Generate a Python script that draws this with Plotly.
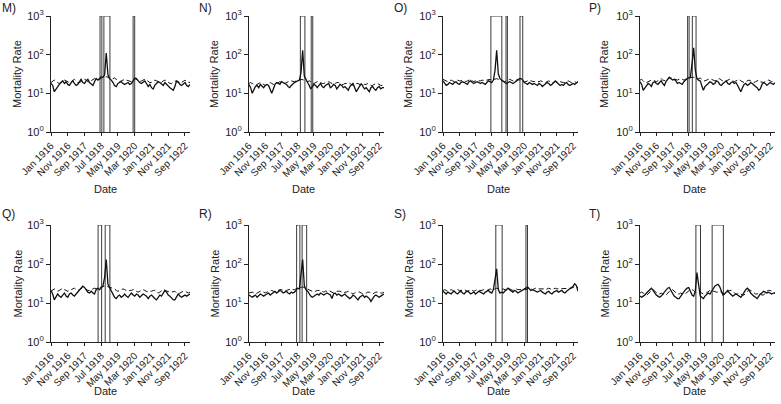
import plotly.graph_objects as go
import pandas as pd

W, H = 781, 404

months = pd.date_range("1916-01-01", "1922-12-01", freq="MS").strftime("%Y-%m-%d").tolist()

tick_dates = ["1916-01-01", "1916-11-01", "1917-09-01", "1918-07-01", "1919-05-01",
              "1920-03-01", "1921-01-01", "1921-11-01", "1922-09-01"]
tick_labels = ["Jan 1916", "Nov 1916", "Sep 1917", "Jul 1918", "May 1919",
               "Mar 1920", "Jan 1921", "Nov 1921", "Sep 1922"]
y_ticks = [1, 10, 100, 1000]
y_labels = ["10<sup>0</sup>", "10<sup>1</sup>", "10<sup>2</sup>", "10<sup>3</sup>"]

panel_labels = ["M)", "N)", "O)", "P)", "Q)", "R)", "S)", "T)"]

M_obs = [18,16,11,13,15,17,19,21,18,20,17,16,
         19,21,18,16,17,20,23,19,18,21,23,19,
         17,16,20,24,22,24,27,26,30,110,30,24,
         22,19,16,15,18,19,20,18,17,18,19,17,
         18,21,25,24,21,19,18,20,21,18,15,17,
         14,13,16,18,20,19,17,16,19,17,15,14,
         13,12,15,21,20,17,16,18,19,16,15,17]
M_exp = [19,21,22,20,19,18,19,21,22,21,20,19,
         20,22,23,21,19,19,20,22,23,22,20,20,
         21,23,24,23,22,23,25,26,26,27,26,25,
         23,24,25,23,21,20,21,22,23,22,21,20,
         20,22,24,23,21,20,21,22,23,22,20,19,
         19,21,22,21,20,19,19,21,22,21,19,18,
         18,20,21,20,19,18,19,21,22,20,19,19]
N_obs = [17,14,10,12,15,16,14,17,15,14,16,17,
         16,13,10,13,17,19,18,17,20,19,18,17,
         15,14,16,18,19,20,21,22,35,130,28,22,
         19,16,13,15,17,16,14,16,18,15,14,16,
         17,18,14,15,17,16,13,15,17,16,14,15,
         13,12,15,17,18,14,11,13,16,18,15,13,
         14,12,11,14,15,13,12,14,15,13,14,14]
N_exp = [18,19,18,17,16,17,18,19,18,17,16,17,
         18,19,18,17,17,18,19,20,19,18,18,19,
         20,21,21,20,20,21,22,22,23,23,22,21,
         20,21,20,18,18,19,20,20,19,18,18,19,
         19,20,19,18,17,18,19,19,18,17,17,18,
         18,19,18,17,16,17,18,18,17,16,16,17,
         17,18,17,16,16,17,18,18,17,16,16,17]
O_obs = [21,18,16,17,19,18,17,19,20,18,17,19,
         20,19,18,17,20,21,19,18,19,20,19,18,
         19,18,17,19,21,20,19,22,40,130,32,24,
         22,20,19,18,19,20,19,18,19,21,22,24,
         24,22,19,18,17,19,18,17,18,17,16,18,
         17,15,16,17,19,18,16,17,19,21,19,17,
         16,17,16,18,19,17,16,17,18,17,18,20]
O_exp = [23,22,21,20,21,22,21,20,21,22,21,21,
         22,21,20,21,22,23,21,20,21,22,21,21,
         22,21,21,22,23,23,22,23,24,24,23,22,
         22,21,20,21,22,23,22,21,20,22,23,22,
         22,21,20,20,21,22,21,20,20,21,20,20,
         21,20,19,19,20,21,20,19,19,20,20,19,
         20,19,19,19,20,21,20,19,19,20,19,20]
P_obs = [20,17,12,14,16,18,17,15,19,20,18,17,
         19,21,18,16,20,23,26,24,22,23,21,18,
         19,18,17,20,22,24,25,26,60,150,40,24,
         22,21,16,12,15,17,18,20,19,17,18,21,
         20,17,16,18,19,21,18,17,19,20,18,19,
         16,13,11,14,17,18,16,17,19,18,16,15,
         14,12,13,17,19,18,16,17,19,18,17,19]
P_exp = [22,23,21,19,19,20,21,22,22,21,20,21,
         23,24,22,21,21,23,25,25,24,23,22,22,
         23,24,23,22,23,24,25,26,26,26,25,24,
         24,25,23,21,21,22,23,24,23,22,21,22,
         23,24,22,21,20,21,22,23,22,21,20,21,
         22,23,21,20,19,20,21,22,21,20,19,20,
         21,22,20,19,19,20,21,22,21,20,20,21]
Q_obs = [21,17,12,14,17,15,14,16,18,15,14,17,
         18,16,15,17,19,21,23,27,25,21,19,18,
         20,18,17,22,24,22,25,27,45,130,30,25,
         21,17,14,13,15,16,14,15,17,15,14,16,
         18,16,15,17,16,14,15,17,16,15,13,15,
         16,14,13,12,14,16,15,18,21,19,16,15,
         13,12,12,15,17,15,14,15,16,15,16,17]
Q_exp = [20,22,23,21,20,21,23,24,22,21,20,21,
         22,23,24,22,21,22,24,25,24,22,21,21,
         22,23,24,23,23,24,26,27,27,27,26,25,
         24,24,23,21,20,21,22,23,22,21,20,21,
         21,22,22,20,19,20,21,22,21,20,19,20,
         20,21,21,19,18,19,20,22,21,20,19,19,
         19,20,20,18,17,18,19,20,20,19,18,19]
R_obs = [16,15,14,15,16,14,15,17,16,15,16,17,
         18,16,17,19,20,18,19,21,20,18,19,20,
         18,17,19,18,19,22,24,23,50,130,28,22,
         20,17,15,14,15,16,17,16,18,17,16,17,
         18,17,16,13,17,18,16,17,16,15,16,17,
         15,14,13,14,16,15,13,12,14,15,16,14,
         15,14,13,11,13,15,16,15,14,15,16,17]
R_exp = [18,19,19,18,17,18,19,20,20,19,18,19,
         20,21,21,20,19,20,21,22,22,21,20,21,
         22,23,23,22,22,23,24,25,25,26,25,24,
         23,22,21,20,19,20,21,21,21,20,19,20,
         20,21,20,19,18,19,20,20,20,19,18,19,
         19,20,19,18,17,18,19,19,19,18,17,18,
         18,19,19,18,17,18,19,19,19,18,18,19]
S_obs = [20,18,17,19,18,17,19,20,18,17,19,20,
         18,17,19,20,19,17,18,19,17,18,20,19,
         18,17,19,20,21,19,18,22,40,75,22,18,
         19,18,20,22,24,22,20,19,21,20,18,19,
         20,21,22,24,26,23,21,22,21,20,19,20,
         21,19,18,17,19,20,18,17,19,20,21,19,
         20,21,19,18,20,22,24,25,27,31,28,20]
S_exp = [21,22,21,20,21,22,21,20,21,22,21,21,
         21,22,21,20,21,22,21,20,21,22,21,21,
         21,22,22,21,22,23,22,22,23,24,23,22,
         22,23,22,21,22,23,22,21,22,23,22,22,
         22,23,23,22,23,24,23,22,23,24,23,23,
         23,24,23,22,23,24,23,22,23,24,23,23,
         23,24,24,23,23,24,24,24,25,26,25,25]
T_obs = [15,14,15,16,18,20,22,24,21,18,16,15,
         14,15,17,19,22,24,25,21,17,15,14,13,
         13,15,17,20,22,24,25,20,16,15,20,60,
         25,15,14,13,15,17,18,17,20,24,27,29,
         30,26,20,16,17,19,21,18,16,15,16,17,
         16,15,14,16,19,22,24,22,18,16,15,14,
         13,15,17,18,20,19,18,19,18,17,18,18]
T_exp = [18,19,18,17,16,17,19,21,22,20,18,17,
         17,18,17,16,16,18,20,22,22,20,18,17,
         17,18,17,17,17,19,21,22,22,21,19,18,
         18,19,18,17,17,18,20,21,21,20,19,19,
         19,20,19,18,17,18,20,21,21,20,18,17,
         17,18,17,16,16,18,20,21,21,20,18,17,
         17,18,17,16,16,18,20,21,21,20,19,18]

# outbreak windows (start, end) per panel
M_out = [("1918-06-10", "1918-07-13"), ("1918-08-19", "1918-12-07"), ("1920-02-01", "1920-03-01")]
N_out = [("1918-08-19", "1918-11-12"), ("1919-03-10", "1919-04-08")]
O_out = [("1918-06-15", "1919-01-06"), ("1919-03-25", "1919-04-20"), ("1919-12-12", "1920-02-01")]
P_out = [("1918-06-10", "1918-07-08"), ("1918-09-06", "1918-11-15")]
Q_out = [("1918-05-06", "1918-07-09"), ("1918-09-12", "1918-12-06")]
R_out = [("1918-06-10", "1918-08-10"), ("1918-09-21", "1918-12-15")]
S_out = [("1918-09-15", "1919-01-12"), ("1920-04-01", "1920-04-30")]
T_out = [("1918-11-12", "1919-02-06"), ("1919-09-12", "1920-04-09")]

panels = [(M_obs, M_exp, M_out), (N_obs, N_exp, N_out), (O_obs, O_exp, O_out), (P_obs, P_exp, P_out),
          (Q_obs, Q_exp, Q_out), (R_obs, R_exp, R_out), (S_obs, S_exp, S_out), (T_obs, T_exp, T_out)]

col_px = [(51, 190), (249, 384), (443, 578), (640, 775)]
row_px = [(16, 132), (225, 342)]
label_x = [0, 197, 392, 587]
label_y = [8, 214]
date_x = [105, 303, 498, 694]
date_y = [189, 391]
ytitle_x = [17, 214, 408, 604]

FONT = "Liberation Sans, Arial, sans-serif"
TXT = "#222222"

fig = go.Figure()
layout = dict(width=W, height=H, margin=dict(l=0, r=0, t=0, b=0, autoexpand=False),
              template="none",
              plot_bgcolor="white", paper_bgcolor="white", showlegend=False,
              font=dict(family=FONT, color=TXT))
annotations = []

for i, (obs, exp, outs) in enumerate(panels):
    r, c = divmod(i, 4)
    n = i + 1
    xa = "x" if n == 1 else f"x{n}"
    ya = "y" if n == 1 else f"y{n}"
    # outbreak rectangles
    for s, e in outs:
        fig.add_trace(go.Scatter(x=[s, s, e, e], y=[1, 1000, 1000, 1], mode="lines",
                                 line=dict(color="#3a3a3a", width=1), xaxis=xa, yaxis=ya,
                                 hoverinfo="skip"))
    fig.add_trace(go.Scatter(x=months, y=exp, mode="lines",
                             line=dict(color="#111111", width=1, dash="5px,3px"), xaxis=xa, yaxis=ya))
    fig.add_trace(go.Scatter(x=months, y=obs, mode="lines",
                             line=dict(color="#111111", width=1.3), xaxis=xa, yaxis=ya))
    x0, x1 = col_px[c]
    y0, y1 = row_px[r]
    xkey = "xaxis" if n == 1 else f"xaxis{n}"
    ykey = "yaxis" if n == 1 else f"yaxis{n}"
    layout[xkey] = dict(domain=[x0 / W, x1 / W], anchor=ya, type="date", automargin=False,
                        range=["1916-01-01", "1922-12-01"],
                        tickmode="array", tickvals=tick_dates, ticktext=tick_labels,
                        tickangle=-45, ticks="outside", ticklen=3, tickcolor="#222",
                        showline=True, linecolor="#222", linewidth=1.2,
                        showgrid=False, zeroline=False,
                        tickfont=dict(size=10, color=TXT, family=FONT))
    layout[ykey] = dict(domain=[1 - y1 / H, 1 - y0 / H], anchor=xa, type="log", automargin=False,
                        range=[0, 3], tickmode="array", tickvals=y_ticks, ticktext=y_labels,
                        ticks="outside", ticklen=4, tickcolor="#222",
                        showline=True, linecolor="#222", linewidth=1.2,
                        showgrid=False, zeroline=False,
                        tickfont=dict(size=11, color=TXT, family=FONT))
    annotations.append(dict(text=panel_labels[i], x=label_x[c] / W, y=1 - label_y[r] / H,
                            xref="paper", yref="paper", xanchor="left", yanchor="middle",
                            showarrow=False, font=dict(size=12, color=TXT, family=FONT)))
    annotations.append(dict(text="Date", x=date_x[c] / W, y=1 - date_y[r] / H,
                            xref="paper", yref="paper", xanchor="center", yanchor="middle",
                            showarrow=False, font=dict(size=11, color=TXT, family=FONT)))
    annotations.append(dict(text="Mortality Rate", x=ytitle_x[c] / W,
                            y=1 - (y0 + y1) / 2 / H, textangle=-90,
                            xref="paper", yref="paper", xanchor="center", yanchor="middle",
                            showarrow=False, font=dict(size=11, color=TXT, family=FONT)))

layout["annotations"] = annotations
fig.update_layout(**layout)
fig.write_html("out.html", config={"displayModeBar": False},
               post_script="document.body.style.margin='0px';document.body.style.padding='0px';")
